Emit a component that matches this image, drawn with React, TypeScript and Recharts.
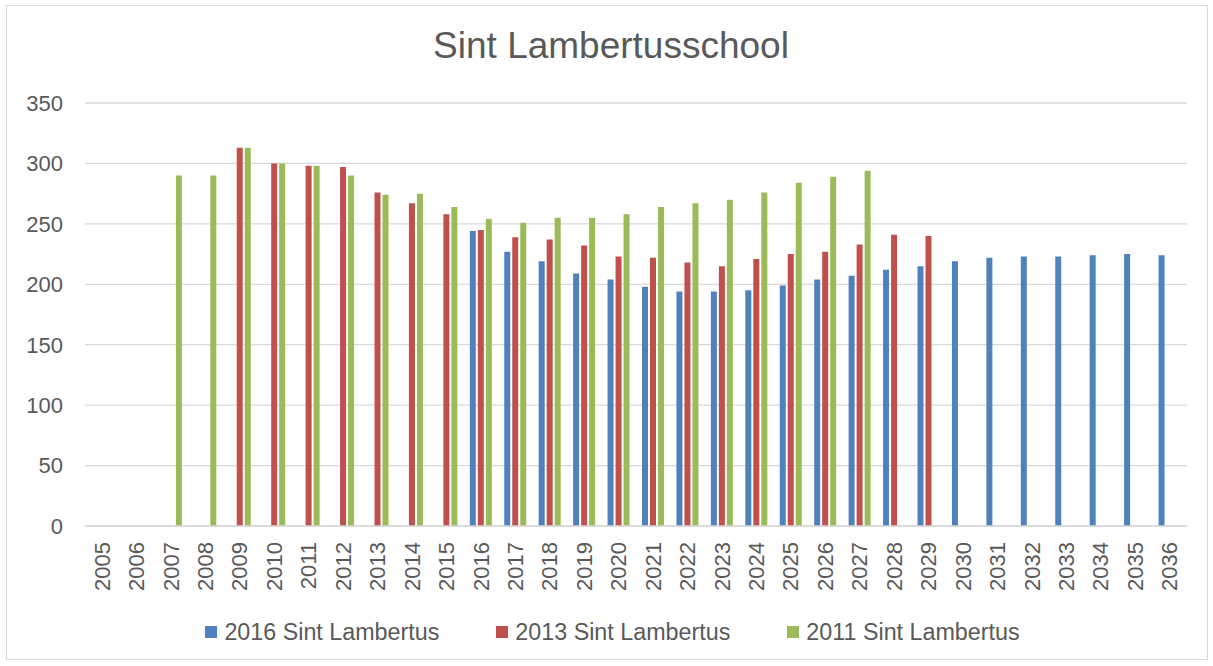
import { BarChart, Bar, XAxis, YAxis, CartesianGrid, Legend } from 'recharts';

const YEARS = [
  '2005', '2006', '2007', '2008', '2009', '2010', '2011', '2012', '2013', '2014', '2015',
  '2016', '2017', '2018', '2019', '2020', '2021', '2022', '2023', '2024', '2025', '2026',
  '2027', '2028', '2029', '2030', '2031', '2032', '2033', '2034', '2035', '2036',
];

const PROGNOSE_2016 = [
  null, null, null, null, null, null, null, null, null, null, null,
  244, 227, 219, 209, 204, 198, 194, 194, 195, 199, 204,
  207, 212, 215, 219, 222, 223, 223, 224, 225, 224,
];

const PROGNOSE_2013 = [
  null, null, null, null, 313, 300, 298, 297, 276, 267, 258,
  245, 239, 237, 232, 223, 222, 218, 215, 221, 225, 227,
  233, 241, 240, null, null, null, null, null, null, null,
];

const PROGNOSE_2011 = [
  null, null, 290, 290, 313, 300, 298, 290, 274, 275, 264,
  254, 251, 255, 255, 258, 264, 267, 270, 276, 284, 289,
  294, null, null, null, null, null, null, null, null, null,
];

const Y_TICKS = [0, 50, 100, 150, 200, 250, 300, 350];

const SERIES = [
  { key: 's2016', name: '2016 Sint Lambertus', color: '#4F81BD' },
  { key: 's2013', name: '2013 Sint Lambertus', color: '#C0504D' },
  { key: 's2011', name: '2011 Sint Lambertus', color: '#9BBB59' },
];

const data = YEARS.map((year, i) => ({
  year,
  s2016: PROGNOSE_2016[i],
  s2013: PROGNOSE_2013[i],
  s2011: PROGNOSE_2011[i],
}));

const FONT = '"Liberation Sans", Arial, sans-serif';
const TEXT = '#595959';

const YearTick = ({ x, y, payload }: any) => (
  <text
    x={x}
    y={y}
    transform={`rotate(-90, ${x}, ${y})`}
    textAnchor="end"
    dominantBaseline="central"
    fill={TEXT}
    fontSize={22}
    fontFamily={FONT}
  >
    {payload.value}
  </text>
);

const LegendBox = () => (
  <div style={{ display: 'flex', justifyContent: 'center', alignItems: 'center', height: 40, paddingLeft: 12 }}>
    {SERIES.map((s, i) => (
      <div key={s.key} style={{ display: 'flex', alignItems: 'center', marginLeft: i === 0 ? 0 : 57 }}>
        <span style={{ width: 12, height: 12, background: s.color, display: 'inline-block', marginRight: 7 }} />
        <span style={{ fontSize: 23.3, color: TEXT, fontFamily: FONT }}>{s.name}</span>
      </div>
    ))}
  </div>
);

export default function App() {
  return (
    <div style={{ position: 'absolute', left: 0, top: 0, width: 1213, height: 666, background: '#fff' }}>
      <div
        style={{
          position: 'absolute', left: 6, top: 5, width: 1202, height: 655,
          border: '1px solid #d9d9d9', boxSizing: 'border-box',
        }}
      />
      <div
        style={{
          position: 'absolute', left: 0, top: 25, width: 1222, textAlign: 'center',
          fontSize: 37, color: TEXT, fontFamily: FONT,
        }}
      >
        Sint Lambertusschool
      </div>
      <BarChart
        width={1213}
        height={666}
        data={data}
        margin={{ top: 103, right: 26, left: 0, bottom: 14 }}
        barSize={6}
        barGap={2}
      >
        <CartesianGrid vertical={false} stroke="#d9d9d9" strokeWidth={1.3} />
        <XAxis
          dataKey="year"
          interval={0}
          height={86}
          tickSize={0}
          tickMargin={16}
          axisLine={{ stroke: '#d9d9d9', strokeWidth: 1.3 }}
          tickLine={false}
          tick={<YearTick />}
        />
        <YAxis
          domain={[0, 350]}
          ticks={Y_TICKS}
          width={85}
          tickSize={0}
          tickMargin={22}
          axisLine={false}
          tickLine={false}
          tick={{ fill: TEXT, fontSize: 22, fontFamily: FONT }}
        />
        <Legend
          verticalAlign="bottom"
          content={<LegendBox />}
          wrapperStyle={{ left: 0, width: 1213 }}
        />
        {SERIES.map((s) => (
          <Bar key={s.key} dataKey={s.key} name={s.name} fill={s.color} isAnimationActive={false} />
        ))}
      </BarChart>
    </div>
  );
}
